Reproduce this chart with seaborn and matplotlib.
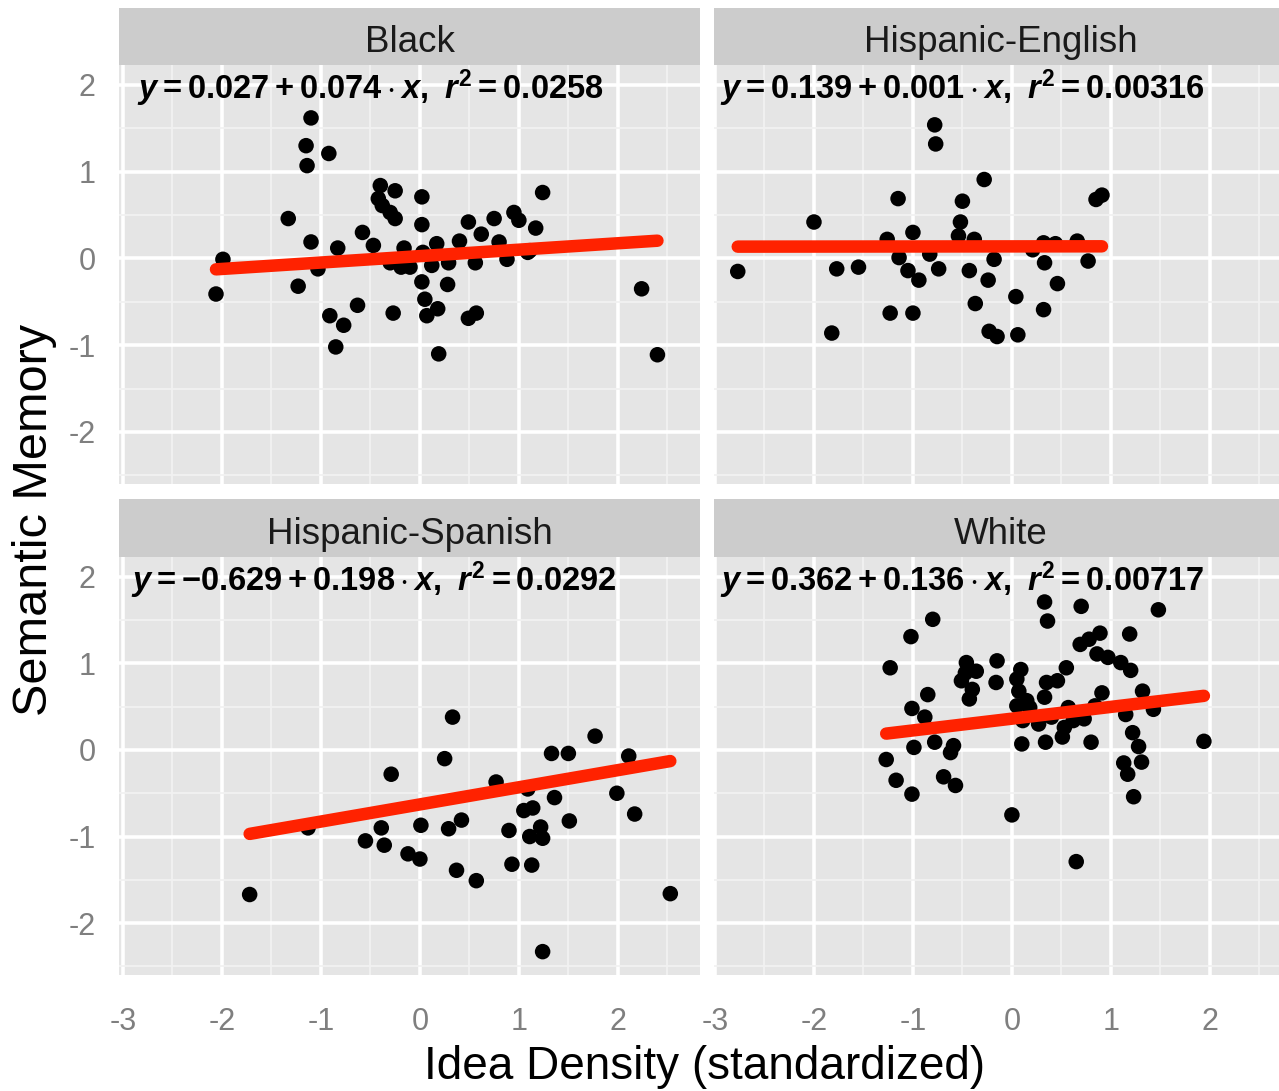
import numpy as np
import pandas as pd
import matplotlib
matplotlib.use("Agg")
import matplotlib.pyplot as plt
import seaborn as sns
from matplotlib import font_manager

# ---------------- data ----------------
groups = ["Black", "Hispanic-English", "Hispanic-Spanish", "White"]

black_x = [-1.10, -1.15, -0.92, -1.14, -0.40, -0.25, 0.02, -0.42, -0.38, -0.30, -0.25, 1.24,
           -1.33, 0.02, 0.49, 0.75, 0.95, 1.00, 1.17, 0.62, -0.58, -1.10, -0.83, -0.47, -0.16,
           0.17, 0.40, 0.80, 1.11, -1.99, -1.03, -0.30, -0.19, -0.10, 0.12, 0.29, 0.56, 0.88,
           0.03, 0.02, 0.28, -1.23, -2.06, 2.24, -0.63, -0.91, -0.77, -0.27, 0.05, 0.07, 0.18,
           0.49, 0.57, -0.85, 0.19, 2.40, 1.09]
black_y = [1.62, 1.30, 1.21, 1.07, 0.84, 0.78, 0.71, 0.69, 0.61, 0.53, 0.46, 0.76,
           0.46, 0.39, 0.42, 0.46, 0.53, 0.44, 0.35, 0.28, 0.30, 0.19, 0.12, 0.15, 0.12,
           0.17, 0.20, 0.19, 0.09, -0.01, -0.12, -0.05, -0.10, -0.10, -0.08, -0.05, -0.05, -0.01,
           0.07, -0.27, -0.30, -0.32, -0.41, -0.35, -0.54, -0.66, -0.77, -0.63, -0.47, -0.66, -0.58,
           -0.69, -0.63, -1.02, -1.10, -1.11, 0.07]

hisp_eng_x = [-0.78, -0.77, -0.28, -1.15, -0.50, 0.85, 0.91, -2.00, -0.52, -1.00, -1.26, -0.54,
              -0.38, 0.32, 0.44, 0.66, 0.21, -1.14, -0.83, -0.18, 0.33, 0.77, -2.77, -1.77,
              -1.55, -1.05, -0.94, -0.74, -0.43, -0.24, 0.46, 0.04, -0.37, 0.32, -1.23, -1.00,
              -1.82, -0.23, -0.15, 0.06]
hisp_eng_y = [1.54, 1.32, 0.91, 0.69, 0.66, 0.68, 0.73, 0.42, 0.42, 0.30, 0.22, 0.26,
              0.22, 0.18, 0.17, 0.20, 0.10, 0.01, 0.05, -0.01, -0.05, -0.03, -0.15, -0.12,
              -0.10, -0.14, -0.25, -0.12, -0.14, -0.25, -0.29, -0.44, -0.52, -0.59, -0.63, -0.63,
              -0.86, -0.84, -0.90, -0.88]

hisp_spa_x = [0.33, 1.77, 0.25, 1.33, 1.50, 2.11, -0.29, 0.77, 1.09, 1.99, 1.36, 1.14,
              1.05, 2.17, 1.51, 0.42, 0.29, 0.01, -0.39, -1.13, 0.90, 1.22, 1.11, 1.24,
              -0.55, -0.36, -0.12, 0.00, 0.37, 0.57, 0.93, 1.13, -1.72, 2.53, 1.24]
hisp_spa_y = [0.38, 0.16, -0.10, -0.04, -0.04, -0.07, -0.28, -0.37, -0.45, -0.50, -0.55, -0.67,
              -0.70, -0.74, -0.82, -0.81, -0.91, -0.87, -0.90, -0.90, -0.93, -0.89, -1.00, -1.02,
              -1.05, -1.10, -1.20, -1.26, -1.39, -1.51, -1.32, -1.33, -1.67, -1.66, -2.33]

white_x = [0.33, 0.70, 1.48, 0.36, -0.80, -1.02, 1.19, 0.89, 0.78, 0.69, 0.86, 0.97,
           1.10, 1.20, -1.23, -0.46, -0.15, -0.47, -0.36, 0.09, 0.55, -0.51, -0.16, 0.05,
           0.35, 0.46, -0.40, -0.43, 0.07, 0.33, 0.91, 1.32, -0.85, -1.01, -0.88, 0.05,
           0.18, 0.57, 0.84, 1.43, 1.15, 0.11, 0.27, 0.73, 0.53, 0.51, 1.22, 1.28,
           -0.78, -0.99, -0.59, -0.62, 0.10, 0.34, 0.80, 1.94, -1.27, 1.31, 1.13, 1.17,
           -1.17, -0.69, -0.57, -1.01, 1.23, 0.00, 0.65, 0.15, 0.40, 0.62]
white_y = [1.71, 1.66, 1.62, 1.49, 1.51, 1.31, 1.34, 1.35, 1.28, 1.22, 1.11, 1.07,
           1.01, 0.92, 0.95, 1.01, 1.03, 0.89, 0.91, 0.93, 0.95, 0.80, 0.78, 0.82,
           0.78, 0.80, 0.70, 0.59, 0.68, 0.61, 0.66, 0.68, 0.64, 0.48, 0.38, 0.51,
           0.49, 0.49, 0.51, 0.47, 0.41, 0.34, 0.30, 0.36, 0.26, 0.15, 0.20, 0.04,
           0.09, 0.03, 0.05, -0.03, 0.07, 0.09, 0.09, 0.10, -0.11, -0.14, -0.15, -0.28,
           -0.35, -0.31, -0.41, -0.51, -0.54, -0.75, -1.29, 0.57, 0.38, 0.34]

intercepts = [0.027, 0.139, -0.629, 0.362]
slopes = [0.074, 0.001, 0.198, 0.136]
r_squared = ["0.0258", "0.00316", "0.0292", "0.00717"]
intercept_labels = ["0.027", "0.139", "-0.629", "0.362"]
slope_labels = ["0.074", "0.001", "0.198", "0.136"]

x_ticks = [-3, -2, -1, 0, 1, 2]
y_ticks = [-2, -1, 0, 1, 2]
x_minor = [-2.5, -1.5, -0.5, 0.5, 1.5, 2.5]
y_minor = [-2.5, -1.5, -0.5, 0.5, 1.5]
x_label = "Idea Density (standardized)"
y_label = "Semantic Memory"

xs = [black_x, hisp_eng_x, hisp_spa_x, white_x]
ys = [black_y, hisp_eng_y, hisp_spa_y, white_y]
df = pd.concat([pd.DataFrame({"group": g, "x": xv, "y": yv}) for g, xv, yv in zip(groups, xs, ys)],
               ignore_index=True)

# ---------------- style ----------------
sns.set_theme(style="white")
avail = {f.name for f in font_manager.fontManager.ttflist}
narrow = "Liberation Sans Narrow" if "Liberation Sans Narrow" in avail else "Liberation Sans"
plt.rcParams["font.family"] = [narrow, "DejaVu Sans"]
plt.rcParams["mathtext.fontset"] = "custom"
plt.rcParams["mathtext.rm"] = f"{narrow}:bold"
plt.rcParams["mathtext.it"] = f"{narrow}:bold:italic"
plt.rcParams["mathtext.bf"] = f"{narrow}:bold"

W, H = 1279, 1091
fig = plt.figure(figsize=(W / 100, H / 100), dpi=100)

def fx(px):
    return px / W

def fy(py):
    return 1 - py / H

panel_cols = [(119, 700), (714, 1290)]
panel_rows = [(65, 484), (557, 975)]
strip_rows = [(8, 65), (499, 557)]
xlims = [(-3.04, 2.83), (-3.01, 2.81)]
ylim = (-2.60, 2.23)
ann_x = [[-2.86, -2.95], [-2.92, -2.95]]

for i, g in enumerate(groups):
    r, c = divmod(i, 2)
    x0, x1 = panel_cols[c]
    y0, y1 = panel_rows[r]
    s0, s1 = strip_rows[r]
    ax = fig.add_axes([fx(x0), fy(y1), fx(x1) - fx(x0), fy(y0) - fy(y1)])
    ax.set_facecolor("#E5E5E5")
    sub = df[df["group"] == g]
    sns.scatterplot(data=sub, x="x", y="y", ax=ax, color="black", s=125,
                    edgecolor="none", linewidth=0, zorder=3, legend=False)
    xr = np.array([sub["x"].min(), sub["x"].max()])
    line_df = pd.DataFrame({"x": xr, "y": intercepts[i] + slopes[i] * xr})
    sns.lineplot(data=line_df, x="x", y="y", ax=ax, color="#FF2200", linewidth=9,
                 zorder=4, legend=False)
    ax.set_xticks(x_ticks)
    ax.set_yticks(y_ticks)
    ax.set_xticks(x_minor, minor=True)
    ax.set_yticks(y_minor, minor=True)
    ax.set_xlim(*xlims[c])
    ax.set_ylim(*ylim)
    ax.grid(which="major", color="white", linewidth=2.6, zorder=1)
    ax.grid(which="minor", color="#F2F2F2", linewidth=1.3, zorder=0)
    ax.set_axisbelow(True)
    for sp in ax.spines.values():
        sp.set_visible(False)
    ax.set_xlabel("")
    ax.set_ylabel("")
    ax.tick_params(which="minor", length=0)
    ax.tick_params(which="major", colors="#7F7F7F", labelcolor="#7F7F7F", length=11,
                   width=1.3, labelsize=22, direction="out")
    ax.tick_params(axis="x", pad=12)
    ax.tick_params(axis="y", pad=6)
    ax.set_xticklabels([str(t) for t in x_ticks])
    ax.set_yticklabels([str(t) for t in y_ticks])
    if r == 0:
        ax.tick_params(axis="x", bottom=False, labelbottom=False)
    if c == 1:
        ax.tick_params(axis="y", left=False, labelleft=False)
    eq = (rf"$y = {intercept_labels[i]} + {slope_labels[i]}\cdot x,\ r^{{2}} = {r_squared[i]}$")
    ax.text(ann_x[r][c], 1.96, eq, fontsize=23.5, color="black", ha="left", va="center", zorder=5)

    sax = fig.add_axes([fx(x0), fy(s1), fx(x1) - fx(x0), fy(s0) - fy(s1)])
    sax.set_facecolor("#CCCCCC")
    sax.set_xticks([])
    sax.set_yticks([])
    for sp in sax.spines.values():
        sp.set_visible(False)
    sax.text(0.5 if c == 0 else (1001 - x0) / (x1 - x0), 0.39, g, ha="center", va="center",
             fontsize=26.5, color="#1A1A1A", transform=sax.transAxes)

fig.text(fx(705), fy(1067), x_label, ha="center", va="center", fontsize=33, color="black")
fig.text(fx(35), fy(520), y_label, ha="center", va="center", rotation=90, fontsize=35,
         color="black")

fig.savefig("out.png", dpi=100, facecolor="white")
